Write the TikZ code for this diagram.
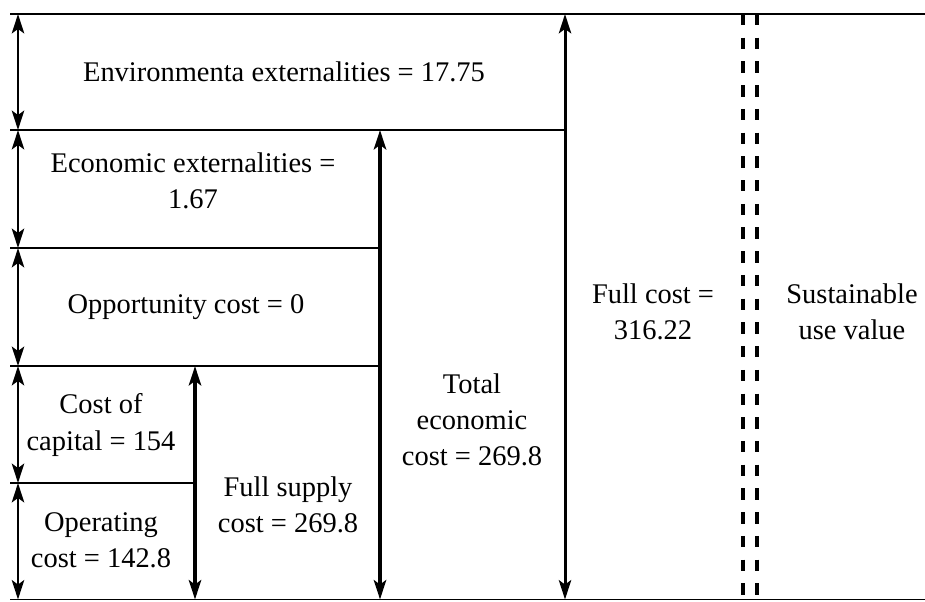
\documentclass[tikz,border=0pt]{standalone}
\usepackage{fontspec}
\setmainfont{Liberation Serif}
\usetikzlibrary{arrows.meta}

\begin{document}
\begin{tikzpicture}[x=0.02cm, y=-0.02cm,
  every node/.style={align=center, font=\fontsize{16.2}{20.5}\selectfont},
  rule/.style={line width=1.1pt},
  span/.style={line width=1.7pt, {Stealth[length=11pt,width=7pt,inset=2.5pt]}-{Stealth[length=11pt,width=7pt,inset=2.5pt]}},
  bigspan/.style={span, line width=2.5pt},
  gap/.style={line width=2pt, dash pattern=on 6.5pt off 7pt}]
  \useasboundingbox (0,0) rectangle (925,601);

  % levels on the left edge
  \coordinate (l0) at (10,14);
  \coordinate (l1) at (10,130);
  \coordinate (l2) at (10,248);
  \coordinate (l3) at (10,366);
  \coordinate (l4) at (10,483);
  \coordinate (l5) at (10,599.5);
  \coordinate (r0) at (925,14);
  \coordinate (r5) at (925,599.5);

  % ends of the horizontal rules
  \coordinate (e1) at (565,130);
  \coordinate (e2) at (380,248);
  \coordinate (e3) at (380,366);
  \coordinate (e4) at (195,483);

  % arrow ends
  \coordinate (a0) at (18,14);
  \coordinate (a1) at (18,130);
  \coordinate (a2) at (18,248);
  \coordinate (a3) at (18,366);
  \coordinate (a4) at (18,483);
  \coordinate (a5) at (18,599.5);
  \coordinate (s3) at (195,366);
  \coordinate (s5) at (195,599.5);
  \coordinate (t1) at (380,130);
  \coordinate (t5) at (380,599.5);
  \coordinate (f0) at (565,14);
  \coordinate (f5) at (565,599.5);
  \coordinate (d0) at (743,14);
  \coordinate (d5) at (743,599.5);
  \coordinate (g0) at (757,14);
  \coordinate (g5) at (757,599.5);

  \node (env) at (284,72) {Environmenta externalities = 17.75};
  \node (eco) at (193,181) {Economic externalities =\\1.67};
  \node (opp) at (186,307) {Opportunity cost = 0};
  \node (cap) at (101,425) {Cost of\\capital = 154};
  \node (ope) at (101,540) {Operating\\cost = 142.8};
  \node (sup) at (288,505) {Full supply\\cost = 269.8};
  \node (tot) at (472,420) {Total\\economic\\cost = 269.8};
  \node (ful) at (653,312) {Full cost =\\316.22};
  \node (sus) at (852,312) {Sustainable\\use value};

  \draw[rule] (l0) -- (r0);
  \draw[rule] (l1) -- (e1);
  \draw[rule] (l2) -- (e2);
  \draw[rule] (l3) -- (e3);
  \draw[rule] (l4) -- (e4);
  \draw[rule] (l5) -- (r5);

  \draw[span] (a0) -- (a1);
  \draw[span] (a1) -- (a2);
  \draw[span] (a2) -- (a3);
  \draw[span] (a3) -- (a4);
  \draw[span] (a4) -- (a5);
  \draw[bigspan] (s3) -- (s5);
  \draw[bigspan] (t1) -- (t5);
  \draw[span] (f0) -- (f5);

  \draw[gap] (d0) -- (d5);
  \draw[gap] (g0) -- (g5);
\end{tikzpicture}
\end{document}
